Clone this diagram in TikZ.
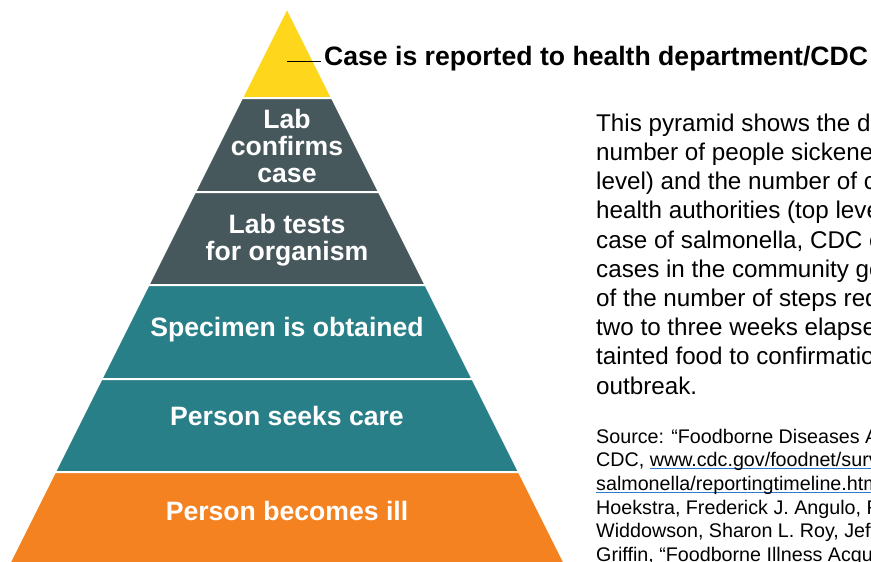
\documentclass[tikz,border=0pt]{standalone}
\usepackage{fontspec}
\setmainfont{Liberation Sans}
\definecolor{cdcyellow}{RGB}{254,214,28}
\definecolor{cdcslate}{RGB}{71,88,93}
\definecolor{cdcteal}{RGB}{41,127,136}
\definecolor{cdcorange}{RGB}{244,130,33}
\definecolor{linkblue}{RGB}{43,121,209}
\newcommand{\weblink}[1]{\setbox0\hbox{#1}\rlap{\color{linkblue}\rule[-2.6pt]{\wd0}{1.3pt}}\box0}

\begin{document}
\begin{tikzpicture}[shorten >=1pt,x=1pt,y=-1pt]
	\tikzstyle{band}=[draw=white,line width=2pt]
	\tikzstyle{level}=[text=white,align=center,inner sep=0pt,font=\bfseries\fontsize{26.6}{26.7}\selectfont]
	\tikzstyle{callout}=[anchor=base west,inner sep=0pt,font=\bfseries\fontsize{26.6}{26.7}\selectfont]
	\tikzstyle{body}=[anchor=north west,align=left,inner sep=0pt]

	\def \px{287}

	\useasboundingbox (0,0) rectangle (871,562);
	\clip (0,0) rectangle (871,562);

	% pyramid, top to bottom
	\filldraw[band,fill=cdcyellow] (\px,8) -- (332,98) -- (242,98) -- cycle;
	\filldraw[band,fill=cdcslate]  (242,98) -- (332,98) -- (379,192) -- (195,192) -- cycle;
	\filldraw[band,fill=cdcslate]  (195,192) -- (379,192) -- (425.5,285) -- (148.5,285) -- cycle;
	\filldraw[band,fill=cdcteal]   (148.5,285) -- (425.5,285) -- (472.5,379) -- (101.5,379) -- cycle;
	\filldraw[band,fill=cdcteal]   (101.5,379) -- (472.5,379) -- (519,472) -- (55,472) -- cycle;
	\filldraw[band,fill=cdcorange] (55,472) -- (519,472) -- (566,566) -- (8,566) -- cycle;

	\node[level] 	(confirms)	at (\px,146)		{Lab\\confirms\\case};
	\node[level] 	(tests)		at (\px,240)		{Lab tests\\for organism};
	\node[level,anchor=base] 	(specimen)	at (\px,336.7)	{Specimen is obtained};
	\node[level,anchor=base] 	(care)		at (\px,425)	{Person seeks care};
	\node[level,anchor=base] 	(ill)		at (\px,520)	{Person becomes ill};

	\node[callout] (reported) at (324,65.5) {Case is reported to health department/CDC};
	\coordinate (tip) at (\px,61);
	\draw[line width=1pt,shorten >=3pt] (tip) -- (reported.west |- tip);

	\node[body,font=\fontsize{24.2}{29.2}\selectfont] (about) at (596,113.5) {This pyramid shows the dif\\
		number of people sickened\\
		level) and the number of ca\\
		health authorities (top level\\
		case of salmonella, CDC es\\
		cases in the community goo\\
		of the number of steps req\\
		two to three weeks elapse\\
		tainted food to confirmation\\
		outbreak.};

	\node[body,font=\fontsize{19.7}{23.7}\selectfont] (source) at (596,428.7) {Source: “Foodborne Diseases Ac\\
		CDC, \weblink{www.cdc.gov/foodnet/surv}\\
		\weblink{salmonella/reportingtimeline.html}\\
		Hoekstra, Frederick J. Angulo, R\\
		Widdowson, Sharon L. Roy, Jeff\\
		Griffin, “Foodborne Illness Acqu};
\end{tikzpicture}
\end{document}
